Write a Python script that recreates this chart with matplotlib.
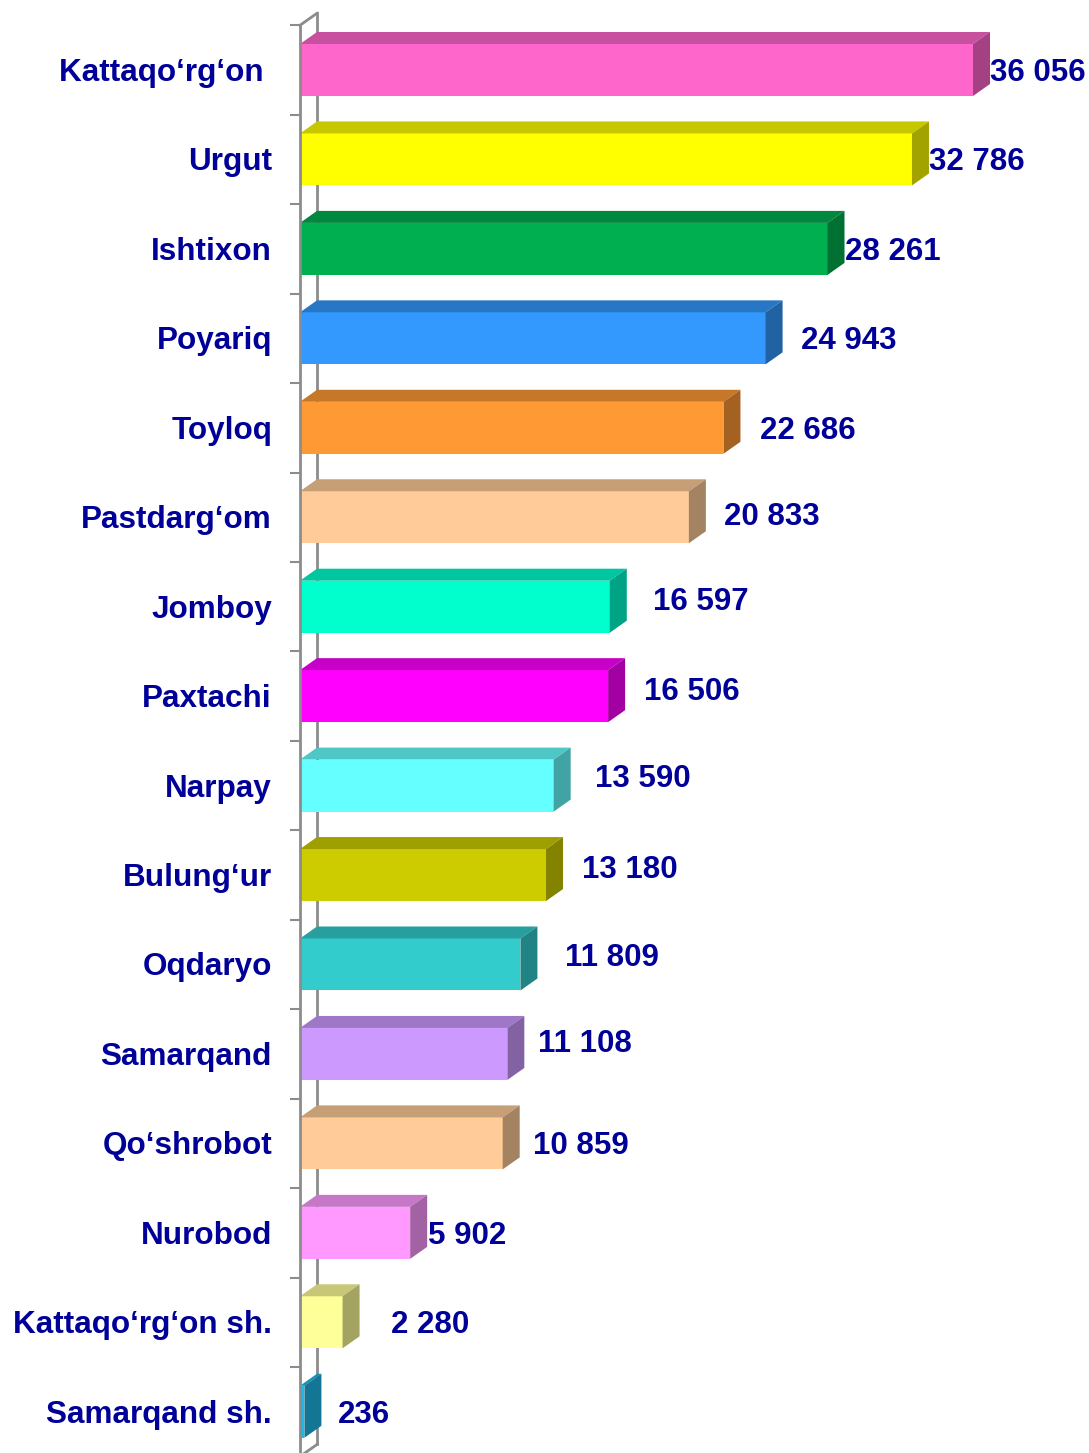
import matplotlib
matplotlib.use("Agg")
from matplotlib import pyplot as plt
from matplotlib.patches import Polygon
from matplotlib.colors import to_rgb

# data
districts = ["Kattaqo‘rg‘on ", "Urgut", "Ishtixon", "Poyariq", "Toyloq",
             "Pastdarg‘om", "Jomboy", "Paxtachi", "Narpay", "Bulung‘ur",
             "Oqdaryo", "Samarqand", "Qo‘shrobot", "Nurobod",
             "Kattaqo‘rg‘on sh.", "Samarqand sh."]
values = [36056, 32786, 28261, 24943, 22686, 20833, 16597, 16506, 13590,
          13180, 11809, 11108, 10859, 5902, 2280, 236]
colors = ["#FF66CC", "#FFFF00", "#00B050", "#3399FF", "#FF9933", "#FFCC99",
          "#00FFCC", "#FF00FF", "#66FFFF", "#CCCC00", "#33CCCC", "#CC99FF",
          "#FFCC99", "#FF99FF", "#FFFF99", "#1CB8E8"]
# value label nudges in pixels (x after bar side, y up)
lab_dx = [0, 0, 0, 18, 20, 18, 26, 19, 24, 19, 28, 14, 13, 1, 31, 16]
lab_dy = [0, 0, 0, 0, 0, 3, 8, 7, 10, 8, 10, 13, 0, 0, 0, 0]

navy = "#000099"
W, H = 1089, 1453
fig = plt.figure(figsize=(W / 100, H / 100), dpi=100)
ax = fig.add_axes([300 / W, 0, (W - 300) / W, 1])

xmax = 36056 * (W - 300) / 673
ax.set_xlim(0, xmax)
ax.set_ylim((H - 70) / 89.45, -70 / 89.45)

dx = 17 * xmax / (W - 300)   # depth in data units
dy = 12 / 89.45
h = 52 / 89.45


def shade(c, f):
    r, g, b = to_rgb(c)
    return (r * f, g * f, b * f)


# axis wall
n = len(values)
ax.plot([dx, dx], [-0.5 - dy, n - 0.5 - dy], color="#8c8c8c", lw=2, zorder=1, clip_on=False)
ax.plot([0, dx], [-0.5, -0.5 - dy], color="#8c8c8c", lw=2, zorder=1, clip_on=False)
ax.plot([0, dx], [n - 0.5, n - 0.5 - dy], color="#8c8c8c", lw=2, zorder=1, clip_on=False)
ax.plot([0, 0], [-0.5, n], color="#8c8c8c", lw=2, zorder=5, clip_on=False)

for s in ax.spines.values():
    s.set_visible(False)
ax.set_xticks([])
ax.set_yticks([i - 0.5 for i in range(n)])
ax.set_yticklabels([])
ax.tick_params(axis="y", length=7, width=1.5, color="#8c8c8c")

ys = list(range(n))
ax.barh(ys, values, height=h, color=colors, zorder=3)

for i, (v, c) in enumerate(zip(values, colors)):
    top = i - h / 2
    bot = i + h / 2
    ax.add_patch(Polygon([(0, top), (v, top), (v + dx, top - dy), (dx, top - dy)],
                         closed=True, facecolor=shade(c, 0.78), edgecolor="none", zorder=3))
    ax.add_patch(Polygon([(v, top), (v + dx, top - dy), (v + dx, bot - dy), (v, bot)],
                         closed=True, facecolor=shade(c, 0.64), edgecolor="none", zorder=3))
    ax.annotate(f"{v:,}".replace(",", " "), xy=(v + dx, i), xytext=(lab_dx[i], lab_dy[i] - 3),
                textcoords="offset pixels", ha="left", va="center",
                fontsize=22.5, fontweight="bold", color=navy,
                family="Liberation Sans", annotation_clip=False, zorder=6)
    ax.annotate(districts[i], xy=(0, i), xytext=(-28, -3), textcoords="offset pixels",
                ha="right", va="center", fontsize=22.7, fontweight="bold",
                color=navy, family="Liberation Sans", annotation_clip=False)

plt.savefig("out.png", dpi=100)
